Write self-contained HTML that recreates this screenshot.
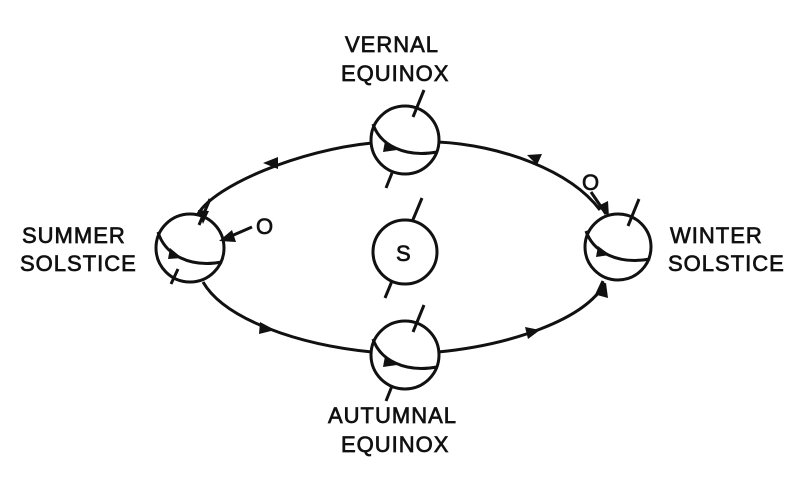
<!DOCTYPE html>
<html><head><style>
body{margin:0;background:#fff;}
svg{display:block}
text{font-family:"Liberation Sans",sans-serif;font-size:22px;fill:#111;stroke:#111;stroke-width:0.7;letter-spacing:1px}
</style></head><body>
<svg width="800" height="478" viewBox="0 0 800 478">
<g fill="none" stroke="#111" stroke-width="3">
<path d="M372,143 C300,150 215,185 198,214"/>
<path d="M438,142 C500,145 570,170 600,210"/>
<path d="M203,282 C225,320 300,345 372,352"/>
<path d="M438,352 C510,345 585,320 605,283"/>
<circle cx="190" cy="248" r="34"/>
<circle cx="405" cy="140" r="34"/>
<circle cx="405" cy="252" r="32"/>
<circle cx="405" cy="355" r="34"/>
<circle cx="618" cy="247" r="33"/>
<path d="M158,232 C165,255 190,268 222,262"/>
<path d="M373,124 C380,145 405,158 437,152"/>
<path d="M373,339 C380,360 405,373 437,367"/>
<path d="M586,231 C593,252 618,265 650,259"/>
<path d="M199,225 L210,199 M171,284 L178,269"/>
<path d="M413,117 L424,90 M386,188 L392,173"/>
<path d="M412,222 L422,198 M385,298 L392,281"/>
<path d="M413,332 L424,305 M386,401 L392,386"/>
<path d="M628,226 L639,199 M596,296 L603,281"/>
<path d="M252,227 L222,240"/>
<path d="M591,192 L606,214"/>
</g>
<g fill="#111">
<polygon points="263,163 278,157 278,169"/>
<polygon points="527,155 542,154 537,165"/>
<polygon points="275,330 260,322 259,334"/>
<polygon points="540,330 525,327 528,339"/>
<polygon points="606,283 597,295 608,298"/>
<polygon points="203,224 198,210 209,211"/>
<polygon points="219,241 232,230 236,242"/>
<polygon points="609,217 598,206 608,201"/>
<polygon points="182,258 170,248 168,259"/>
<polygon points="397,150 385,141 383,152"/>
<polygon points="397,365 385,356 383,367"/>
<polygon points="610,255 598,246 596,257"/>
</g>
<text x="345" y="52">VERNAL</text>
<text x="341" y="81">EQUINOX</text>
<text x="22" y="243">SUMMER</text>
<text x="20" y="271">SOLSTICE</text>
<text x="670" y="243">WINTER</text>
<text x="668" y="271">SOLSTICE</text>
<text x="328" y="423">AUTUMNAL</text>
<text x="341" y="452">EQUINOX</text>
<text x="256" y="234">O</text>
<text x="582" y="190">O</text>
<text x="396" y="261">S</text>
</svg>
</body></html>
